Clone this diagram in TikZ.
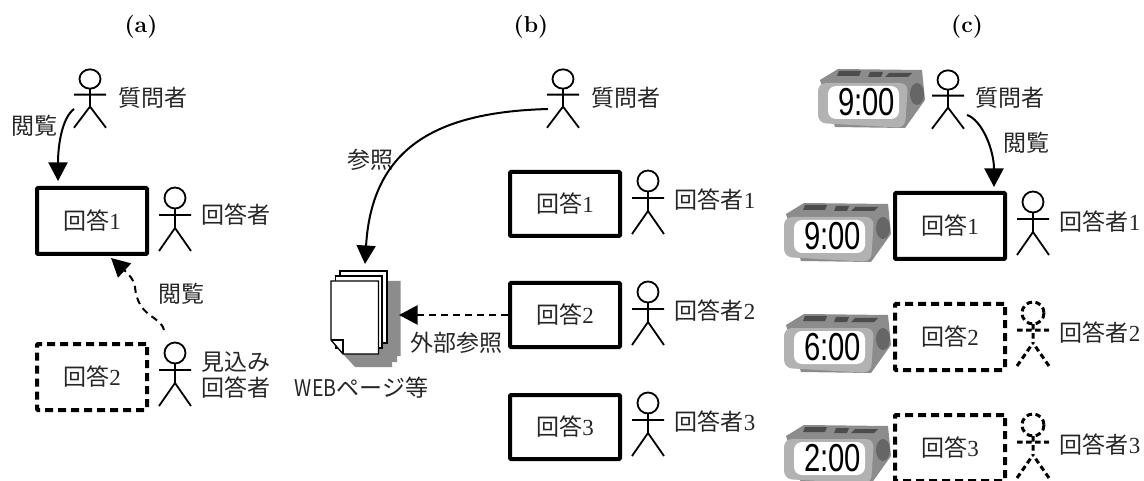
\documentclass[tikz,border=0pt]{standalone}
\usepackage{fontspec}
\usepackage{graphicx}
\usetikzlibrary{arrows.meta}
\newfontfamily\jp{Noto Sans CJK JP}
\newfontfamily\dg{Liberation Serif}
\newfontfamily\clockfont{Liberation Sans}
\definecolor{clkfront}{gray}{0.70}
\definecolor{clkback}{gray}{0.55}
\definecolor{clkdark}{gray}{0.30}
\definecolor{clkknob}{gray}{0.40}
\tikzset{
  x=1pt,y=-1pt,
  lab/.style={font=\jp\fontsize{23}{26}\selectfont,inner sep=0pt,text=black!85},
  hdr/.style={font=\fontsize{23}{26}\selectfont\bfseries,inner sep=0pt},
  solidbox/.style={draw,line width=4pt,rounded corners=1pt,minimum width=110pt,minimum height=66pt,inner sep=0pt,font=\jp\fontsize{23}{26}\selectfont,text=black!85},
  dashbox/.style={solidbox,dash pattern=on 8pt off 5pt},
  bigtip/.style={-{Triangle[length=18.5pt,width=19pt]}},
  conn/.style={line width=2pt,bigtip},
  dconn/.style={line width=2pt,bigtip,dash pattern=on 7pt off 5pt},
  pics/actor/.style={code={
    \draw[line width=1.8pt] (0,0) circle (10.5)
      (-16,17) -- (16,17)
      (0,10.5) -- (0,30)
      (-16,53) -- (0,30) -- (16,53);
  }},
  pics/dactor/.style={code={
    \draw[line width=3pt,dash pattern=on 5.5pt off 3.5pt] (0,0) circle (11)
      (-16,17) -- (16,17)
      (0,11) -- (0,30)
      (-16,53) -- (0,30)
      (16,53) -- (0,30);
  }},
  pics/clock/.style={code={
    \fill[clkback] (2,0) -- (20,-11) -- (104,-10) -- (107,20) -- (87,48) -- (17,47) -- cycle;
    \fill[clkfront,rounded corners=8pt] (0,3) -- (90,3) -- (87,48) -- (0,43) -- cycle;
    \fill[clkdark] (21,-9) -- (43,-9) -- (41,-4) -- (19,-4) -- cycle;
    \fill[clkdark] (52,-8) -- (65,-8) -- (63,-3) -- (50,-3) -- cycle;
    \fill[clkdark] (71,-7) -- (94,-7) -- (90,-3) -- (67,-3) -- cycle;
    \fill[clkknob] (99,14) ellipse (7 and 11);
    \fill[white,rounded corners=8pt] (10,6) rectangle (81,39);
    \node[inner sep=0pt,font=\clockfont\fontsize{39}{39}\selectfont] at (48.5,22.5) {\scalebox{.75}[1]{#1}};
  }}
}
\newcommand{\ans}[1]{回答{\dg #1}}
\newcommand{\resp}[1]{回答者{\dg #1}}
\begin{document}
\begin{tikzpicture}
\useasboundingbox (0,0) rectangle (1144,481);
\clip (0,0) rectangle (1144,481);

% headers
\node[hdr] (ha) at (141,27) {(a)};
\node[hdr] (hb) at (531,27) {(b)};
\node[hdr] (hc) at (967,27) {(c)};

% --- (a)
\pic[yscale=.92] at (90,79) {actor};
\node[lab] (aq) at (153,98) {質問者};
\node[solidbox] (abox1) at (92,221) {\ans{1}};
\pic at (175,198) {actor};
\node[lab] (ar) at (236,215) {回答者};
\node[dashbox] (abox2) at (92,377) {\ans{2}};
\pic at (175,353) {actor};
\node[lab,align=center] (am) at (236,375) {見込み\\回答者};
\node[lab] (av1) at (34,126) {閲覧};
\node[lab] (av2) at (181,294) {閲覧};
\coordinate (a1s) at (74,109);
\coordinate (a1e) at (58,181);
\coordinate (a2s) at (164,330);
\coordinate (a2e) at (111,258);
\draw[conn] (a1s) .. controls (62,118) and (58,145) .. (a1e);
\draw[dconn] (a2s) .. controls (160,315) and (138,318) .. (135,287)
   .. controls (134,278) and (124,270) .. (a2e);

% --- (b)
\pic[yscale=.92] at (563,79) {actor};
\node[lab] (bq) at (626,98) {質問者};
\foreach \n/\by/\ty/\ay in {1/204/200/181,2/315/311/292,3/427/422/403}{
  \node[solidbox,minimum height=64pt] (bbox\n) at (565,\by) {\ans{\n}};
  \pic at (648,\ay) {actor};
  \node[lab] (br\n) at (715,\ty) {\resp{\n}};
}
% documents
\fill[gray!90] (387,281) -- (400.5,281) -- (400.5,356) -- (397,356) -- (397,362) -- (392,362) -- (392,367) -- (355,367) -- (343,354) -- cycle;
\draw[line width=1.3pt,fill=white] (340,271) rectangle (387,343);
\draw[line width=1.3pt,fill=white] (335.5,276) rectangle (382,348);
\draw[line width=1.3pt,fill=white] (331,281) -- (378.5,281) -- (378.5,354) -- (343,354) -- (331,340) -- cycle;
\draw[line width=1.3pt] (331,340) -- (343,340) -- (343,354);
\node[inner sep=0pt,minimum width=70pt,minimum height=86pt] (docs) at (365,312) {};
\node[lab] (bweb) at (361.5,388) {\scalebox{.85}[1]{\fontsize{23}{26}\selectfont WEB}ページ等};
\node[lab] (bext) at (456,343) {外部参照};
\node[lab] (bref) at (370,160) {参照};
\coordinate (b1s) at (548,109);
\coordinate (b1e) at (365,264);
\draw[conn] (b1s) .. controls (440,112) and (372,145) .. (b1e);
\coordinate (b2e) at (399,315);
\draw[dconn] (bbox2.west) -- (b2e);

% --- (c)
\pic at (818,80) {clock={9:00}};
\pic[yscale=.92] at (948,80) {actor};
\node[lab] (cq) at (1010,98) {質問者};
\node[lab] (cv) at (1026,143) {閲覧};
\coordinate (c1s) at (967,115);
\coordinate (c1e) at (994,187);
\draw[conn] (c1s) .. controls (982,120) and (994,150) .. (c1e);

\pic at (784,214) {clock={9:00}};
\node[solidbox] (cbox1) at (950,226) {\ans{1}};
\pic at (1033,202) {actor};
\node[lab] (cr1) at (1100,222) {\resp{1}};

\pic at (784,325) {clock={6:00}};
\node[dashbox] (cbox2) at (950,337) {\ans{2}};
\pic at (1033,313) {dactor};
\node[lab] (cr2) at (1100,333) {\resp{2}};

\pic at (784,436) {clock={2:00}};
\node[dashbox] (cbox3) at (950,448) {\ans{3}};
\pic at (1033,425) {dactor};
\node[lab] (cr3) at (1100,445) {\resp{3}};
\end{tikzpicture}
\end{document}
